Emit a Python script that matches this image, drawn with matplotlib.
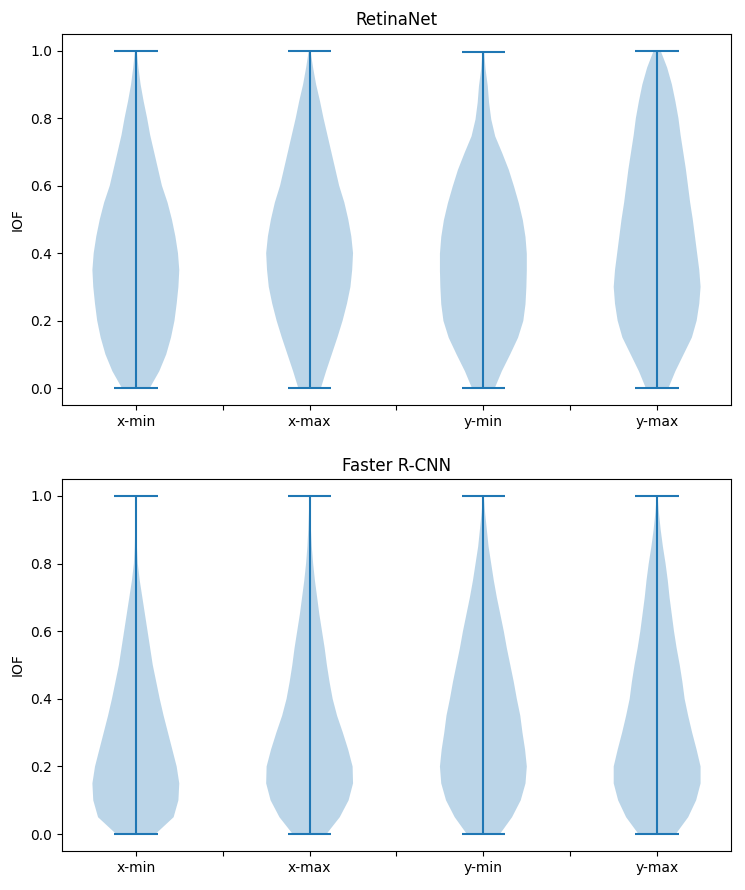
import numpy as np
import matplotlib
matplotlib.use("Agg")
import matplotlib.pyplot as plt

categories = ["x-min", "x-max", "y-min", "y-max"]
titles = ["RetinaNet", "Faster R-CNN"]

# IOF levels at which the violin half-widths were read
iof_levels = [0.0, 0.05, 0.1, 0.15, 0.2, 0.25, 0.3, 0.35, 0.4, 0.45, 0.5,
              0.55, 0.6, 0.65, 0.7, 0.75, 0.8, 0.85, 0.9, 0.95, 1.0]

# relative density (violin half-width) per category, RetinaNet
retina_xmin = [0.32, 0.54, 0.70, 0.81, 0.89, 0.94, 0.98, 1.00, 0.97, 0.91, 0.83,
               0.73, 0.60, 0.51, 0.42, 0.33, 0.26, 0.18, 0.11, 0.06, 0.02]
retina_xmax = [0.26, 0.38, 0.51, 0.64, 0.76, 0.86, 0.94, 0.98, 1.00, 0.96, 0.89,
               0.80, 0.68, 0.59, 0.50, 0.41, 0.32, 0.24, 0.15, 0.08, 0.02]
retina_ymin = [0.26, 0.42, 0.61, 0.79, 0.91, 0.96, 0.98, 0.99, 0.99, 0.96, 0.90,
               0.81, 0.70, 0.58, 0.43, 0.27, 0.18, 0.13, 0.10, 0.05, 0.02]
retina_ymax = [0.26, 0.42, 0.61, 0.80, 0.91, 0.97, 1.00, 0.97, 0.92, 0.87, 0.82,
               0.76, 0.71, 0.66, 0.60, 0.54, 0.49, 0.42, 0.34, 0.23, 0.08]

# relative density per category, Faster R-CNN
frcnn_xmin = [0.45, 0.87, 0.98, 1.00, 0.94, 0.84, 0.74, 0.64, 0.55, 0.47, 0.39,
              0.33, 0.27, 0.21, 0.15, 0.09, 0.045, 0.025, 0.015, 0.01, 0.005]
frcnn_xmax = [0.38, 0.68, 0.88, 0.98, 0.97, 0.87, 0.75, 0.62, 0.52, 0.45, 0.39,
              0.34, 0.28, 0.22, 0.17, 0.12, 0.08, 0.05, 0.03, 0.015, 0.005]
frcnn_ymin = [0.38, 0.66, 0.86, 0.97, 1.00, 0.96, 0.90, 0.85, 0.77, 0.70, 0.62,
              0.54, 0.47, 0.39, 0.31, 0.24, 0.18, 0.12, 0.08, 0.04, 0.01]
frcnn_ymax = [0.42, 0.70, 0.88, 0.98, 0.98, 0.89, 0.79, 0.70, 0.62, 0.57, 0.51,
              0.44, 0.38, 0.33, 0.28, 0.24, 0.19, 0.13, 0.08, 0.04, 0.01]

retina_min = [0.0, 0.0, 0.0, 0.0]
retina_max = [1.0, 1.0, 0.995, 1.0]
frcnn_min = [0.0, 0.0, 0.0, 0.0]
frcnn_max = [1.0, 1.0, 1.0, 1.0]

panels = [
    ([retina_xmin, retina_xmax, retina_ymin, retina_ymax], retina_min, retina_max),
    ([frcnn_xmin, frcnn_xmax, frcnn_ymin, frcnn_ymax], frcnn_min, frcnn_max),
]

fig = plt.figure(figsize=(7.45, 8.9), dpi=100)
rects = [[0.0832, 0.545, 0.898, 0.417], [0.0832, 0.0438, 0.898, 0.418]]

positions = np.arange(1, len(categories) + 1)
for rect, title, (dens, mins, maxs) in zip(rects, titles, panels):
    ax = fig.add_axes(rect)
    stats = []
    for d, lo, hi in zip(dens, mins, maxs):
        coords = np.array(iof_levels, dtype=float)
        coords = lo + (coords - coords[0]) * (hi - lo) / (coords[-1] - coords[0])
        stats.append(dict(coords=coords, vals=np.array(d, dtype=float),
                          mean=float(np.mean(coords)), median=float(np.median(coords)),
                          min=lo, max=hi))
    ax.violin(stats, positions=positions, widths=0.5,
              showmeans=False, showextrema=True, showmedians=False)
    ticks = np.arange(1, len(categories) + 0.5, 0.5)
    labels = []
    for t in ticks:
        labels.append(categories[int(t) - 1] if float(t).is_integer() else "")
    ax.set_xticks(ticks)
    ax.set_xticklabels(labels)
    ax.set_title(title)
    ax.set_ylabel("IOF")

fig.savefig("out.png", dpi=100)
